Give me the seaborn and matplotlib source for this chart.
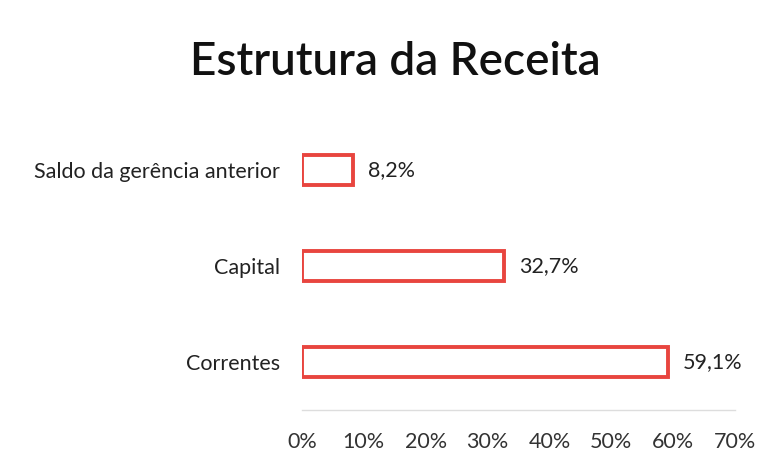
import seaborn as sns
import matplotlib.pyplot as plt
import pandas as pd

categorias = ['Saldo da gerência anterior', 'Capital', 'Correntes']
valores = [8.2, 32.7, 59.1]
ticks = [0, 10, 20, 30, 40, 50, 60, 70]

sns.set_style('white')
plt.rcParams['font.family'] = ['Lato', 'DejaVu Sans']

df = pd.DataFrame({'categoria': categorias, 'valor': valores})

fig = plt.figure(figsize=(7.71, 4.66), dpi=100)
ax = fig.add_axes([302 / 771, 1 - 410 / 466, (735 - 302) / 771, (410 - 122) / 466])

sns.barplot(data=df, x='valor', y='categoria', order=categorias, ax=ax,
            color='white', edgecolor='#E8453F', linewidth=2.8, width=0.31)

for i, v in enumerate(valores):
    ax.text(v + 2.4, i, ('%.1f%%' % v).replace('.', ','), va='center', ha='left',
            fontsize=15.5, color='#222222')

ax.set_xlim(0, 70)
ax.set_ylim(2.5, -0.5)
ax.set_xticks(ticks)
ax.set_xticklabels([str(t) + '%' for t in ticks])
ax.set_xlabel('')
ax.set_ylabel('')
ax.tick_params(axis='x', length=0, pad=16, labelsize=15.5, labelcolor='#333333')
ax.tick_params(axis='y', length=0, pad=16, labelsize=15.5, labelcolor='#222222')
for s in ['top', 'right', 'left']:
    ax.spines[s].set_visible(False)
ax.spines['bottom'].set_color('#DDDDDD')
ax.spines['bottom'].set_linewidth(1)

fig.text(395 / 771, 1 - 62 / 466, 'Estrutura da Receita', ha='center', va='center',
         fontsize=33, fontweight='semibold', color='#111111')

fig.savefig('out.png', dpi=100)
